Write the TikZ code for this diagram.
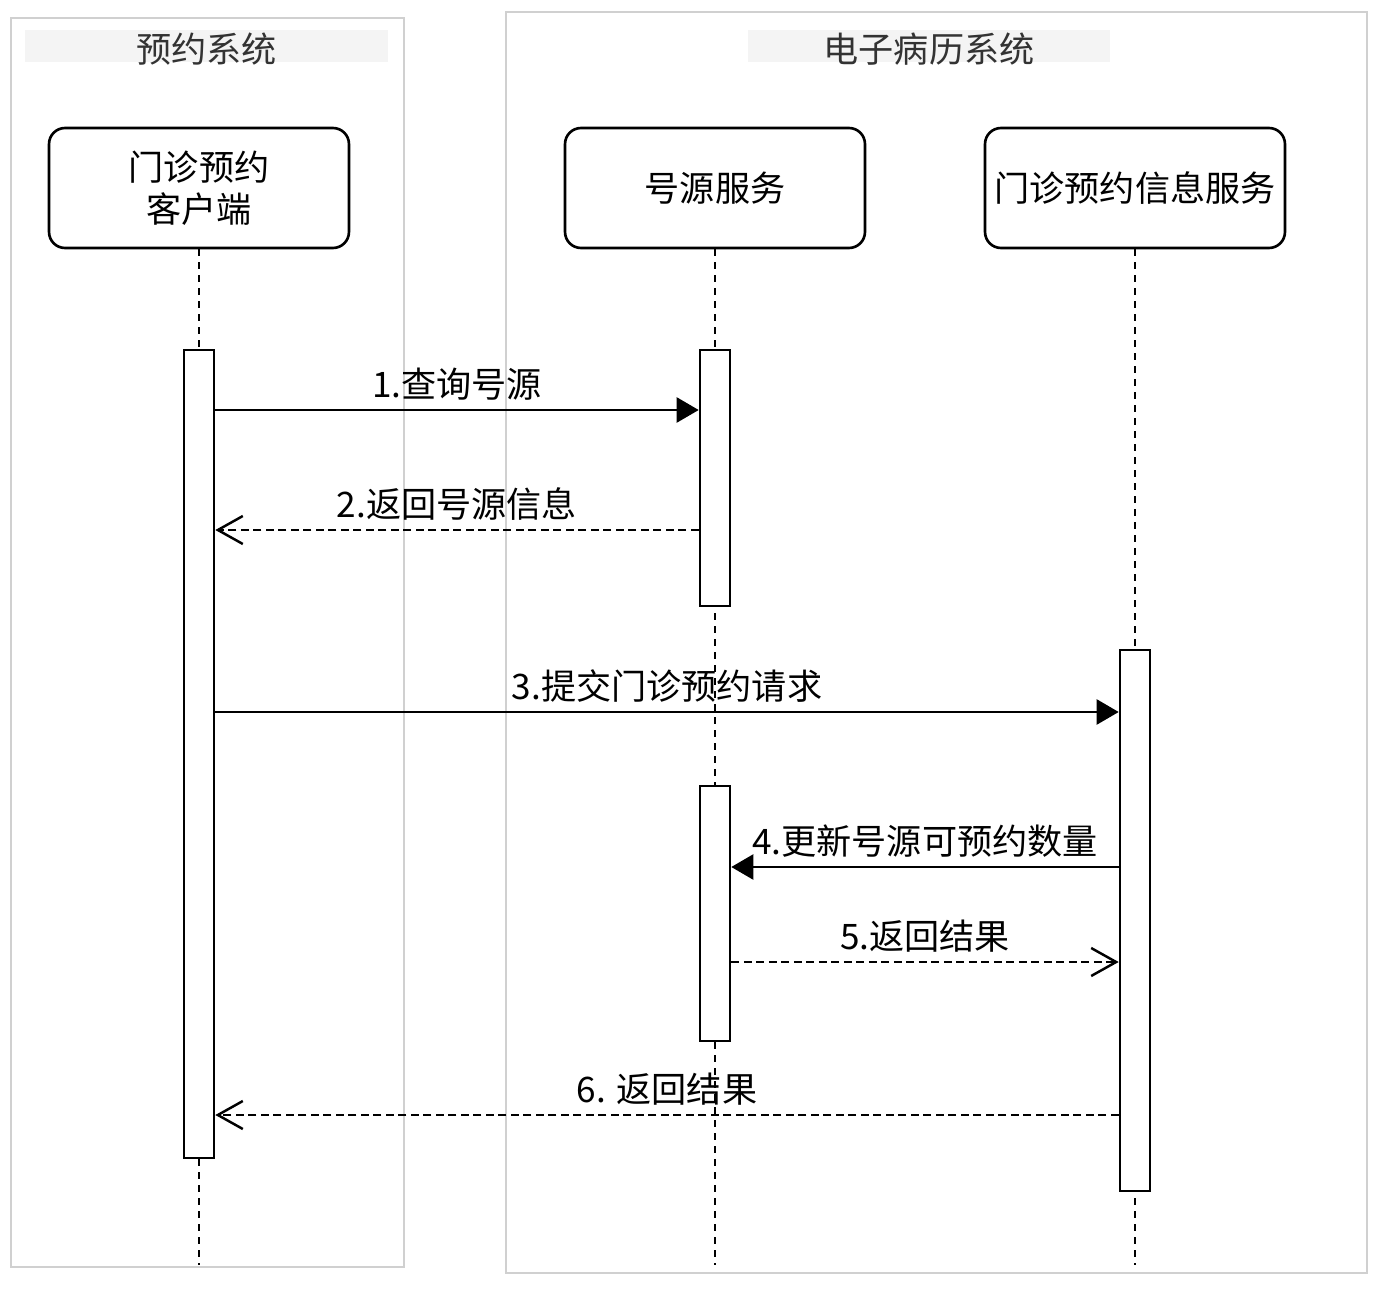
\documentclass[tikz,border=0pt]{standalone}
\usepackage{fontspec}
\setmainfont{Noto Sans CJK SC}
\usetikzlibrary{arrows.meta}
\definecolor{framegray}{HTML}{D0D0D0}
\definecolor{bandgray}{HTML}{F4F4F4}
\definecolor{titletext}{HTML}{333333}

\begin{document}
\begin{tikzpicture} [x=0.02cm, y=-0.02cm,
				actor/.style={
				% The shape:
				rectangle, rounded corners=0.32cm,
				% The size:
      				minimum width=6cm, minimum height=2.4cm,
				% The border:
      				line width=1.5pt, draw=black,
				% Font
				font=\fontsize{20}{24}\selectfont
    				},
				bar/.style={
				% The shape:
				rectangle, inner sep=0pt,
				% The size:
      				minimum width=0.6cm,
				% The border:
      				line width=1.5pt, draw=black,
      				% The filling:
				fill=white
    				},
				band/.style={
				% The shape:
				rectangle, inner sep=0pt,
				% The size:
      				minimum width=7.26cm, minimum height=0.64cm,
      				% The filling:
				fill=bandgray
    				},
				grouptitle/.style={
				text=titletext,
				font=\fontsize{20}{24}\selectfont
    				},
				msglabel/.style={
				anchor=base, yshift=0.26cm,
				font=\fontsize{20}{24}\selectfont
    				},
				]
    \tikzstyle{every node} = [align=center]
    \tikzstyle{frame} = [draw=framegray, line width=1.1pt]
    \tikzstyle{lifeline} = [line width=1.2pt, dash pattern=on 0.13cm off 0.13cm]
    \tikzstyle{call} = [line width=1.4pt, -{Triangle[length=0.44cm,width=0.5cm]}]
    \tikzstyle{reply} = [line width=1.4pt, dash pattern=on 0.16cm off 0.09cm, -{Straight Barb[length=0.5cm,width=0.56cm]}]
    \useasboundingbox (0,0) rectangle (1387,1291);

    % groups
    \draw [frame] (11,18) rectangle (404,1267);
    \draw [frame] (506,12) rectangle (1367,1273);
    \node [band] (bookBand) at (206.5,46) {};
    \node [band] (emrBand) at (929,46) {};
    \node [grouptitle] (bookTitle) at (206.5,49) {预约系统};
    \node [grouptitle] (emrTitle) at (929,49) {电子病历系统};

    % participants
    \node [actor] (client) at (199,188) {门诊预约\\客户端};
    \node [actor] (source) at (715,188) {号源服务};
    \node [actor] (info) at (1135,188) {门诊预约信息服务};

    \coordinate (bottom) at (0,1265);
    \draw [lifeline] (client.south) -- (client.south |- bottom);
    \draw [lifeline] (source.south) -- (source.south |- bottom);
    \draw [lifeline] (info.south) -- (info.south |- bottom);

    % activations
    \node [bar, minimum height=16.16cm] (clientBar) at (199,754) {};
    \node [bar, minimum height=5.12cm] (sourceBarA) at (715,478) {};
    \node [bar, minimum height=5.1cm] (sourceBarB) at (715,913.5) {};
    \node [bar, minimum height=10.82cm] (infoBar) at (1135,920.5) {};

    % messages
    \coordinate (m1) at (0,410);
    \coordinate (m2) at (0,530);
    \coordinate (m3) at (0,712);
    \coordinate (m4) at (0,867);
    \coordinate (m5) at (0,962);
    \coordinate (m6) at (0,1115);
    \draw [call] (clientBar.east |- m1) -- node [msglabel] {1.查询号源} (sourceBarA.west |- m1);
    \draw [reply] (sourceBarA.west |- m2) -- node [msglabel] {2.返回号源信息} (clientBar.east |- m2);
    \draw [call] (clientBar.east |- m3) -- node [msglabel] {3.提交门诊预约请求} (infoBar.west |- m3);
    \draw [call] (infoBar.west |- m4) -- node [msglabel] {4.更新号源可预约数量} (sourceBarB.east |- m4);
    \draw [reply] (sourceBarB.east |- m5) -- node [msglabel] {5.返回结果} (infoBar.west |- m5);
    \draw [reply] (infoBar.west |- m6) -- node [msglabel] {6. 返回结果} (clientBar.east |- m6);
\end{tikzpicture}
\end{document}
